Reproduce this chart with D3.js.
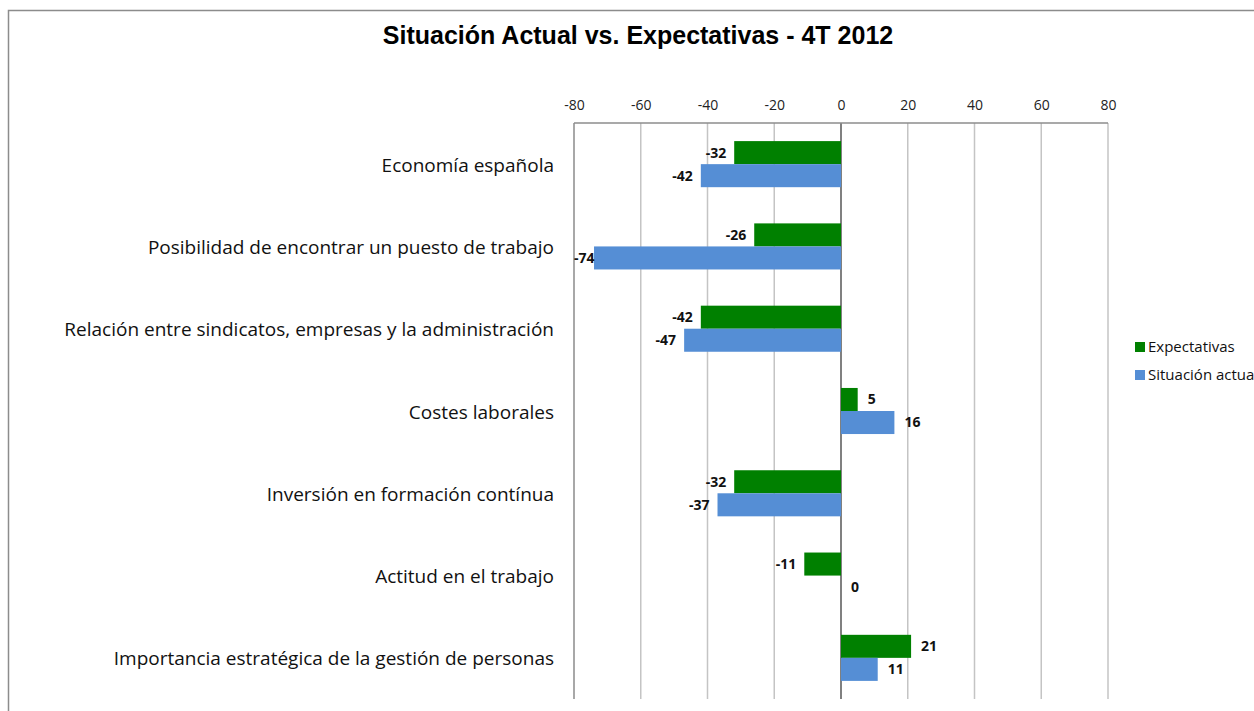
<!DOCTYPE html>
<html>
<head>
<meta charset="utf-8">
<script src="https://cdn.jsdelivr.net/npm/d3@7"></script>
<style>
  body { margin: 0; background: #fff; overflow: hidden; }
</style>
</head>
<body>
<div id="chart"></div>
<script>
// data
var categories = [
  "Economía española",
  "Posibilidad de encontrar un puesto de trabajo",
  "Relación entre sindicatos, empresas y la administración",
  "Costes laborales",
  "Inversión en formación contínua",
  "Actitud en el trabajo ",
  "Importancia estratégica de la gestión de personas"
];
var expectativas = [-32, -26, -42, 5, -32, -11, 21];
var situacionActual = [-42, -74, -47, 16, -37, 0, 11];
var seriesNames = ["Expectativas", "Situación actual"];
var seriesColors = ["#008000", "#558ed5"];
var xTicks = [-80, -60, -40, -20, 0, 20, 40, 60, 80];

var W = 1254, H = 711;
var plot = {left: 574, right: 1108, top: 123, bottom: 699};

var svg = d3.select("#chart").append("svg")
  .attr("width", W).attr("height", H);

// outer frame
svg.append("rect")
  .attr("x", 8.5).attr("y", 10.5)
  .attr("width", W + 20).attr("height", H + 20)
  .attr("fill", "none").attr("stroke", "#8c8c8c").attr("stroke-width", 1.5);

svg.append("text")
  .attr("x", 638).attr("y", 44)
  .attr("text-anchor", "middle")
  .style("font-family", "'Liberation Sans', Arial, sans-serif")
  .style("font-weight", "bold")
  .style("font-size", "25px")
  .text("Situación Actual vs. Expectativas - 4T 2012");

var x = d3.scaleLinear().domain([-80, 80]).range([plot.left, plot.right]);
var y0 = d3.scaleBand().domain(categories).range([plot.top, plot.bottom])
  .paddingInner(0.44).paddingOuter(0.22);
var y1 = d3.scaleBand().domain(seriesNames).range([0, y0.bandwidth()]);

// grid
svg.append("g").selectAll("line")
  .data(xTicks)
  .enter().append("line")
  .attr("x1", function(d) { return x(d); })
  .attr("x2", function(d) { return x(d); })
  .attr("y1", plot.top).attr("y2", plot.bottom)
  .attr("stroke", function(d) { return d === 0 ? "#808080" : "#c4c4c4"; })
  .attr("stroke-width", function(d) { return d === 0 ? 2 : 1.5; });

svg.append("line")
  .attr("x1", plot.left).attr("x2", plot.right)
  .attr("y1", plot.top).attr("y2", plot.top)
  .attr("stroke", "#8c8c8c").attr("stroke-width", 1.5);
svg.append("line")
  .attr("x1", plot.left).attr("x2", plot.left)
  .attr("y1", plot.top).attr("y2", plot.bottom)
  .attr("stroke", "#8c8c8c").attr("stroke-width", 1.2);

// top axis labels
var xAxis = svg.append("g")
  .attr("transform", "translate(0," + (plot.top - 13) + ")")
  .call(d3.axisTop(x).tickValues(xTicks).tickSize(0).tickPadding(0)
    .tickFormat(function(d) { return String(d); }));
xAxis.select(".domain").remove();
xAxis.selectAll("text")
  .style("font-family", "'Open Sans', sans-serif")
  .style("font-size", "14px")
  .attr("fill", "#222");

// category labels
var yAxis = svg.append("g")
  .attr("transform", "translate(" + (plot.left - 20) + ",0)")
  .call(d3.axisLeft(y0).tickSize(0).tickPadding(0));
yAxis.select(".domain").remove();
yAxis.selectAll("text")
  .attr("dy", "0.4em")
  .style("font-family", "'Open Sans', sans-serif")
  .style("font-size", "19px")
  .attr("fill", "#111");

// bars
var rows = categories.map(function(c, i) {
  return {cat: c, vals: [expectativas[i], situacionActual[i]]};
});

var groups = svg.selectAll(".grp")
  .data(rows)
  .enter().append("g")
  .attr("class", "grp")
  .attr("transform", function(d) { return "translate(0," + y0(d.cat) + ")"; });

groups.selectAll("rect")
  .data(function(d) { return d.vals.map(function(v, j) { return {v: v, s: seriesNames[j], j: j}; }); })
  .enter().append("rect")
  .attr("x", function(d) { return x(Math.min(0, d.v)); })
  .attr("y", function(d) { return y1(d.s); })
  .attr("width", function(d) { return Math.abs(x(d.v) - x(0)); })
  .attr("height", y1.bandwidth())
  .attr("fill", function(d) { return seriesColors[d.j]; });

groups.selectAll("text")
  .data(function(d) { return d.vals.map(function(v, j) { return {v: v, s: seriesNames[j], j: j}; }); })
  .enter().append("text")
  .attr("y", function(d) { return y1(d.s) + y1.bandwidth() / 2; })
  .attr("dy", "0.35em")
  .style("font-family", "'Open Sans', sans-serif")
  .style("font-weight", "bold")
  .style("font-size", "14px")
  .attr("fill", "#111")
  .text(function(d) { return d.v; })
  .each(function(d) {
    var t = d3.select(this);
    var w = this.getComputedTextLength();
    if (d.v < 0) {
      var end = x(d.v) - 8;
      if (end - w < plot.left) end = plot.left + w;
      t.attr("x", end).attr("text-anchor", "end");
    } else {
      t.attr("x", x(d.v) + 10).attr("text-anchor", "start");
    }
  });

// legend
var legend = svg.append("g").attr("transform", "translate(1135,347)");
seriesNames.forEach(function(name, i) {
  var g = legend.append("g").attr("transform", "translate(0," + (i * 28) + ")");
  g.append("rect").attr("x", 0).attr("y", -5).attr("width", 10).attr("height", 10)
    .attr("fill", seriesColors[i]);
  g.append("text").attr("x", 13).attr("y", 0).attr("dy", "0.35em")
    .style("font-family", "'Open Sans', sans-serif")
    .style("font-size", "15px")
    .attr("fill", "#111")
    .text(name);
});
</script>
</body>
</html>
